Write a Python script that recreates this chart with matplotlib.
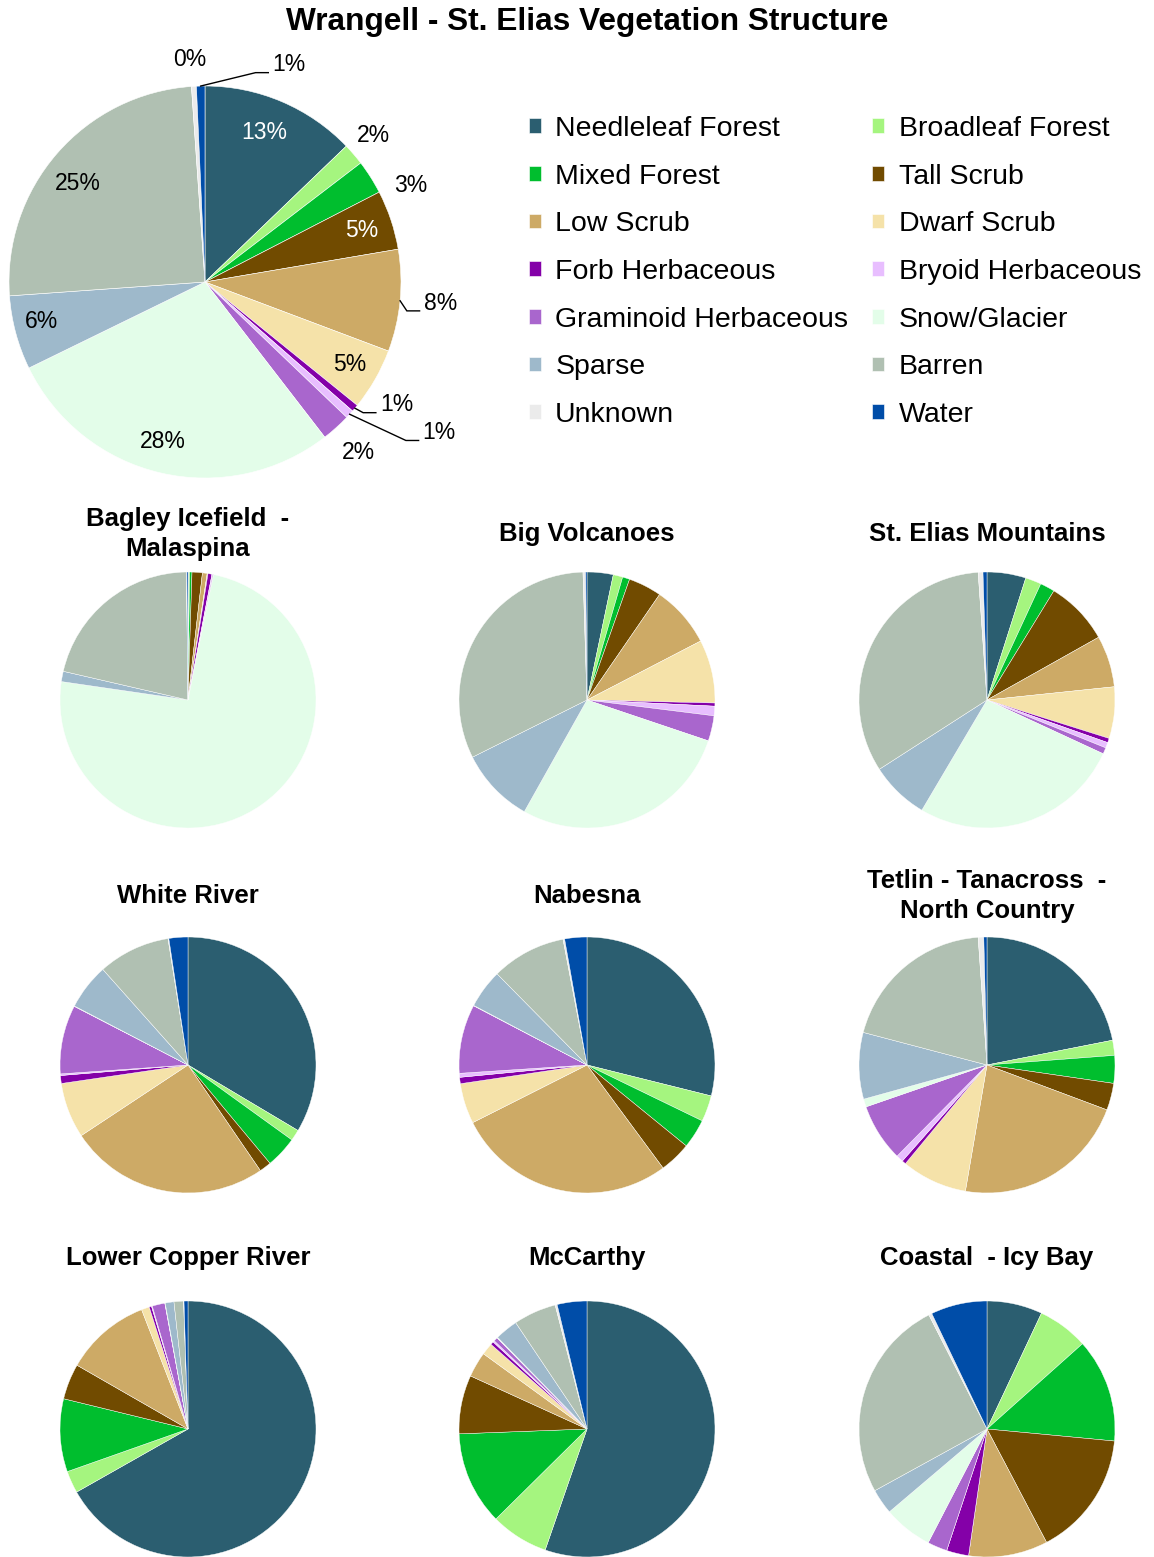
import numpy as np
import matplotlib.pyplot as plt

plt.rcParams["font.family"] = ["Liberation Sans", "DejaVu Sans"]

W, H = 1154, 1557

CLASSES = ["Needleleaf Forest", "Broadleaf Forest", "Mixed Forest", "Tall Scrub",
           "Low Scrub", "Dwarf Scrub", "Forb Herbaceous", "Bryoid Herbaceous",
           "Graminoid Herbaceous", "Snow/Glacier", "Sparse", "Barren", "Unknown", "Water"]
COLORS = ["#2B5E70", "#A5F57F", "#00BE2E", "#714B00", "#CDAA66", "#F5E2A9", "#8400A8",
          "#E8BEFF", "#A966CD", "#E3FDE9", "#9EB9CB", "#B0C0B2", "#EBEBEB", "#004DA8"]

# percent of area, same order as CLASSES
PARK = [12.8, 1.8, 2.8, 4.9, 8.4, 5.1, 0.6, 0.7, 2.4, 28.2, 6.1, 25.0, 0.4, 0.7]

UNIT_NAMES = ["Bagley Icefield  -\nMalaspina", "Big Volcanoes", "St. Elias Mountains",
              "White River", "Nabesna", "Tetlin - Tanacross  -\nNorth Country",
              "Lower Copper River", "McCarthy", "Coastal  - Icy Bay"]
BAGLEY = [0.1, 0.1, 0.3, 1.3, 0.6, 0.1, 0.5, 0.1, 0.1, 74.1, 1.3, 21.2, 0.05, 0.15]
BIG_VOLCANOES = [3.3, 1.2, 0.9, 4.2, 7.8, 8.0, 0.4, 1.2, 3.2, 28.0, 9.5, 31.9, 0.33, 0.17]
ST_ELIAS = [4.9, 2.0, 1.85, 8.1, 6.5, 6.5, 0.55, 0.7, 0.8, 26.6, 7.4, 33.0, 0.6, 0.5]
WHITE_RIVER = [33.6, 1.4, 4.0, 1.5, 25.3, 7.0, 1.0, 0.2, 8.7, 0.05, 5.8, 9.1, 0.1, 2.4]
NABESNA = [28.9, 3.3, 3.7, 4.0, 27.7, 5.1, 0.8, 0.5, 8.7, 0.05, 4.9, 9.4, 0.2, 2.8]
TETLIN = [21.9, 1.9, 3.5, 3.4, 22.0, 8.3, 0.5, 0.9, 7.3, 1.0, 8.4, 19.8, 0.7, 0.4]
LOWER_COPPER = [66.8, 2.8, 9.2, 4.5, 10.8, 1.0, 0.3, 0.1, 1.6, 0.05, 1.1, 1.2, 0.05, 0.5]
MCCARTHY = [55.3, 7.3, 11.8, 7.4, 3.2, 1.5, 0.4, 0.2, 0.5, 0.1, 2.9, 5.4, 0.25, 3.75]
COASTAL = [7.0, 6.4, 13.1, 15.8, 10.0, 0.0, 2.8, 0.0, 2.5, 6.2, 3.2, 25.5, 0.4, 7.1]
UNITS = [BAGLEY, BIG_VOLCANOES, ST_ELIAS, WHITE_RIVER, NABESNA, TETLIN,
         LOWER_COPPER, MCCARTHY, COASTAL]

# label placement for the park pie: (angle clockwise from top, radius factor, leader line)
LABEL_POS = [(21.8, 0.82, False), (49, 1.14, False), (64.8, 1.16, False), (71.7, 0.84, False),
             (95.5, 1.12, True), (119.8, 0.85, False), (125.1, 1.09, True), (124.7, 1.35, True),
             (138, 1.17, False), (194.8, 0.84, False), (256.5, 0.86, False), (307.7, 0.82, False),
             (356.1, 1.14, False), (17.2, 1.16, True)]
WHITE_LABELS = {0, 3}


def pie_axes(fig, cx, cy, r, lim=1.6):
    side = 2 * lim * r
    ax = fig.add_axes([(cx - lim * r) / W, 1 - (cy + lim * r) / H, side / W, side / H])
    ax.set_xlim(-lim, lim)
    ax.set_ylim(-lim, lim)
    ax.set_aspect("equal")
    ax.axis("off")
    return ax


def polar(angle, rad):
    a = np.radians(angle)
    return rad * np.sin(a), rad * np.cos(a)


fig = plt.figure(figsize=(W / 100, H / 100), dpi=100)

fig.text(587 / W, 1 - 22 / H, "Wrangell - St. Elias Vegetation Structure",
         ha="center", va="center", fontsize=22.8, fontweight="bold")

# park-wide pie
ax = pie_axes(fig, 205, 282, 196)
wedges, _ = ax.pie(PARK, colors=COLORS, startangle=90, counterclock=False,
                   wedgeprops=dict(edgecolor="white", linewidth=0.4))
ax.set_xlim(-1.6, 1.6)
ax.set_ylim(-1.6, 1.6)
total = sum(PARK)
cum = 0
for i, val in enumerate(PARK):
    mid = (cum + val / 2) / total * 360
    cum += val
    txt = f"{val / total * 100:.0f}%"
    ang, rad, leader = LABEL_POS[i]
    tx, ty = polar(ang, rad)
    color = "white" if i in WHITE_LABELS else "black"
    if leader:
        ax.text(tx, ty, txt, ha="left", va="center", fontsize=16.5, color=color)
        ex, ey = polar(mid, 1.0)
        ly = ty - 0.04
        ax.plot([ex, tx - 0.085, tx - 0.02], [ey, ly, ly], color="black", lw=1,
                solid_joinstyle="miter")
    else:
        ax.text(tx, ty, txt, ha="center", va="center", fontsize=16.5, color=color)

# legend in row order with two columns
order = list(range(0, 14, 2)) + list(range(1, 14, 2))
fig.legend([wedges[i] for i in order], [CLASSES[i] for i in order], ncol=2,
           loc="upper left", bbox_to_anchor=(529 / W, 1 - 116 / H), frameon=False,
           fontsize=20.5, handlelength=0.42, handleheight=0.42, handletextpad=0.5,
           labelspacing=0.76, columnspacing=0.85, borderpad=0, borderaxespad=0)

# unit pies
xs = [188, 587, 987]
ys = [700, 1065, 1429]
title_y = [534, 896, 1258]
for k, (name, vals) in enumerate(zip(UNIT_NAMES, UNITS)):
    row, col = divmod(k, 3)
    ax = pie_axes(fig, xs[col], ys[row], 128)
    ax.pie(vals, colors=COLORS, startangle=90, counterclock=False,
           wedgeprops=dict(edgecolor="white", linewidth=0.3))
    ax.set_xlim(-1.6, 1.6)
    ax.set_ylim(-1.6, 1.6)
    fig.text(xs[col] / W, 1 - title_y[row] / H, name, ha="center", va="center",
             fontsize=18.5, fontweight="bold", linespacing=1.3)

fig.savefig("out.png", dpi=100)
